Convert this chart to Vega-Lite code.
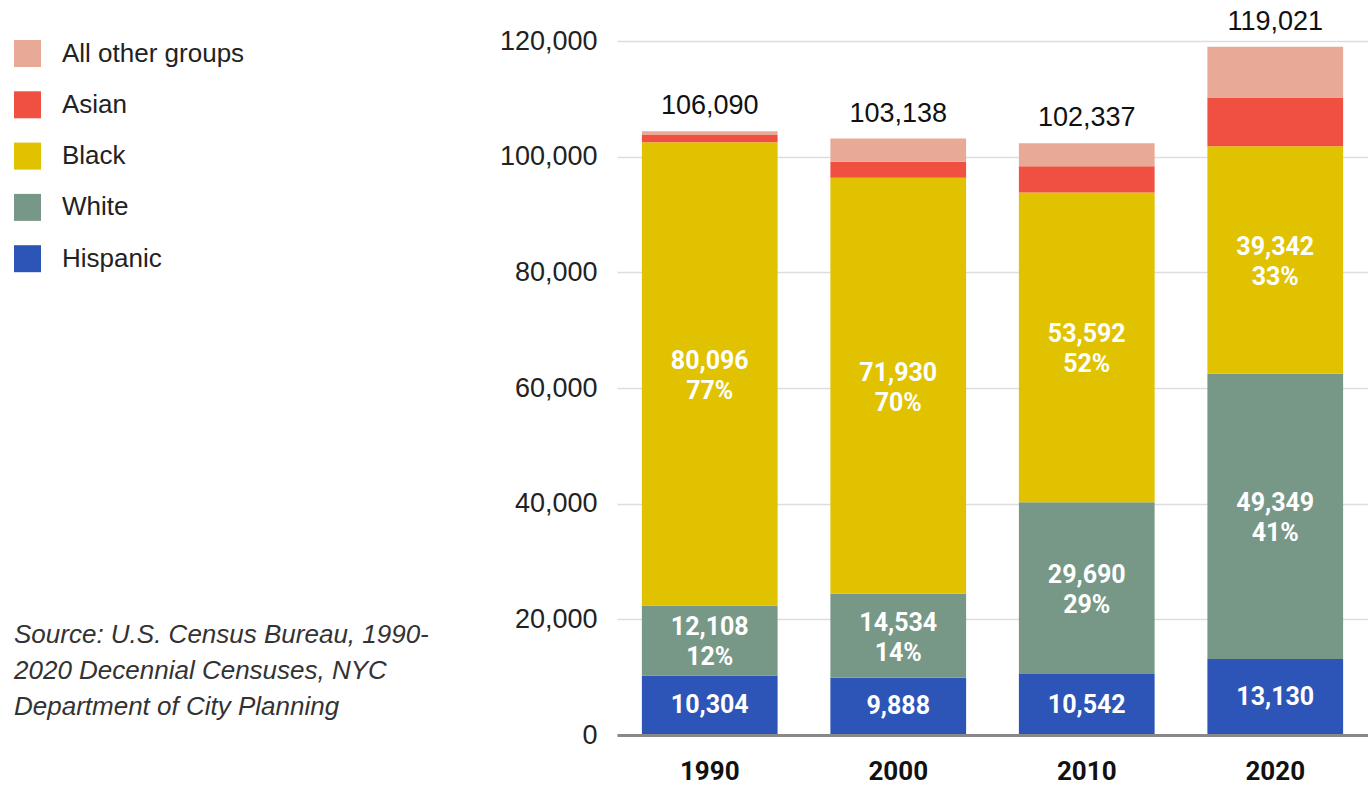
{
  "$schema": "https://vega.github.io/schema/vega-lite/v6.json",
  "width": 751,
  "height": 694,
  "autosize": {"type": "none"},
  "padding": {"left": 617, "top": 41, "right": 0, "bottom": 50},
  "background": "white",
  "config": {"font": "Liberation Sans", "view": {"stroke": null}},
  "title": {
    "text": ["Source: U.S. Census Bureau, 1990-", "2020 Decennial Censuses, NYC", "Department of City Planning"],
    "orient": "bottom",
    "anchor": "start",
    "frame": "group",
    "align": "left",
    "baseline": "top",
    "dx": -603,
    "dy": -166,
    "font": "Liberation Sans",
    "fontSize": 26,
    "fontStyle": "italic",
    "fontWeight": "normal",
    "color": "#333333",
    "lineHeight": 36
  },
  "data": {
    "values": [
      {"year": "1990", "group": "Hispanic", "ord": 1, "value": 10304, "label": "10,304", "total": "106,090"},
      {"year": "1990", "group": "White", "ord": 2, "value": 12108, "label": "12,108\n12%", "total": "106,090"},
      {"year": "1990", "group": "Black", "ord": 3, "value": 80096, "label": "80,096\n77%", "total": "106,090"},
      {"year": "1990", "group": "Asian", "ord": 4, "value": 1250, "label": "", "total": "106,090"},
      {"year": "1990", "group": "All other groups", "ord": 5, "value": 650, "label": "", "total": "106,090"},
      {"year": "2000", "group": "Hispanic", "ord": 1, "value": 9888, "label": "9,888", "total": "103,138"},
      {"year": "2000", "group": "White", "ord": 2, "value": 14534, "label": "14,534\n14%", "total": "103,138"},
      {"year": "2000", "group": "Black", "ord": 3, "value": 71930, "label": "71,930\n70%", "total": "103,138"},
      {"year": "2000", "group": "Asian", "ord": 4, "value": 2750, "label": "", "total": "103,138"},
      {"year": "2000", "group": "All other groups", "ord": 5, "value": 4036, "label": "", "total": "103,138"},
      {"year": "2010", "group": "Hispanic", "ord": 1, "value": 10542, "label": "10,542", "total": "102,337"},
      {"year": "2010", "group": "White", "ord": 2, "value": 29690, "label": "29,690\n29%", "total": "102,337"},
      {"year": "2010", "group": "Black", "ord": 3, "value": 53592, "label": "53,592\n52%", "total": "102,337"},
      {"year": "2010", "group": "Asian", "ord": 4, "value": 4500, "label": "", "total": "102,337"},
      {"year": "2010", "group": "All other groups", "ord": 5, "value": 4013, "label": "", "total": "102,337"},
      {"year": "2020", "group": "Hispanic", "ord": 1, "value": 13130, "label": "13,130", "total": "119,021"},
      {"year": "2020", "group": "White", "ord": 2, "value": 49349, "label": "49,349\n41%", "total": "119,021"},
      {"year": "2020", "group": "Black", "ord": 3, "value": 39342, "label": "39,342\n33%", "total": "119,021"},
      {"year": "2020", "group": "Asian", "ord": 4, "value": 8400, "label": "", "total": "119,021"},
      {"year": "2020", "group": "All other groups", "ord": 5, "value": 8800, "label": "", "total": "119,021"}
    ]
  },
  "encoding": {
    "x": {
      "field": "year",
      "type": "ordinal",
      "scale": {"paddingInner": 0.28, "paddingOuter": 0.132},
      "axis": {
        "title": null,
        "labelAngle": 0,
        "labelFont": "Roboto",
        "labelFontSize": 26,
        "labelFontWeight": "bold",
        "labelColor": "#111111",
        "labelPadding": 23,
        "ticks": false,
        "domain": true,
        "domainColor": "#888888",
        "domainWidth": 3,
        "zindex": 1
      }
    }
  },
  "layer": [
    {
      "mark": {"type": "bar"},
      "encoding": {
        "y": {
          "field": "value",
          "type": "quantitative",
          "stack": "zero",
          "scale": {"domain": [0, 120000], "nice": false},
          "axis": {
            "title": null,
            "values": [0, 20000, 40000, 60000, 80000, 100000, 120000],
            "format": ",d",
            "grid": true,
            "gridColor": "#DDDDDD",
            "gridWidth": 1.5,
            "domain": false,
            "ticks": false,
            "labelFont": "Liberation Sans",
            "labelFontSize": 27,
            "labelColor": "#222222",
            "labelPadding": 20
          }
        },
        "color": {
          "field": "group",
          "type": "nominal",
          "scale": {
            "domain": ["All other groups", "Asian", "Black", "White", "Hispanic"],
            "range": ["#E8AA97", "#F05042", "#E1C200", "#789887", "#2D55B8"]
          },
          "legend": {
            "title": null,
            "orient": "none",
            "legendX": -603,
            "legendY": -1,
            "symbolType": "square",
            "symbolSize": 729,
            "symbolStrokeWidth": 0,
            "symbolOpacity": 1,
            "labelFont": "Liberation Sans",
            "labelFontSize": 26,
            "labelColor": "#222222",
            "labelOffset": 21,
            "labelLimit": 400,
            "rowPadding": 24.3,
            "padding": 0
          }
        },
        "order": {"field": "ord", "type": "quantitative"}
      }
    },
    {
      "transform": [
        {"stack": "value", "groupby": ["year"], "sort": [{"field": "ord"}], "as": ["y0", "y1"]},
        {"calculate": "(datum.y0 + datum.y1) / 2", "as": "mid"},
        {"filter": "indexof(datum.label, '\\n') >= 0"}
      ],
      "mark": {"type": "text", "color": "white", "font": "Roboto", "fontWeight": "bold", "fontSize": 25, "lineBreak": "\n", "lineHeight": 30, "baseline": "middle", "dy": -13},
      "encoding": {
        "y": {"field": "mid", "type": "quantitative"},
        "text": {"field": "label"}
      }
    },
    {
      "transform": [
        {"stack": "value", "groupby": ["year"], "sort": [{"field": "ord"}], "as": ["y0", "y1"]},
        {"calculate": "(datum.y0 + datum.y1) / 2", "as": "mid"},
        {"filter": "datum.label != '' && indexof(datum.label, '\\n') < 0"}
      ],
      "mark": {"type": "text", "color": "white", "font": "Roboto", "fontWeight": "bold", "fontSize": 25, "baseline": "middle"},
      "encoding": {
        "y": {"field": "mid", "type": "quantitative"},
        "text": {"field": "label"}
      }
    },
    {
      "transform": [
        {"aggregate": [{"op": "sum", "field": "value", "as": "top"}], "groupby": ["year", "total"]}
      ],
      "mark": {"type": "text", "font": "Liberation Sans", "fontSize": 27, "baseline": "bottom", "dy": -11, "color": "#111111"},
      "encoding": {
        "y": {"field": "top", "type": "quantitative"},
        "text": {"field": "total"}
      }
    }
  ]
}
